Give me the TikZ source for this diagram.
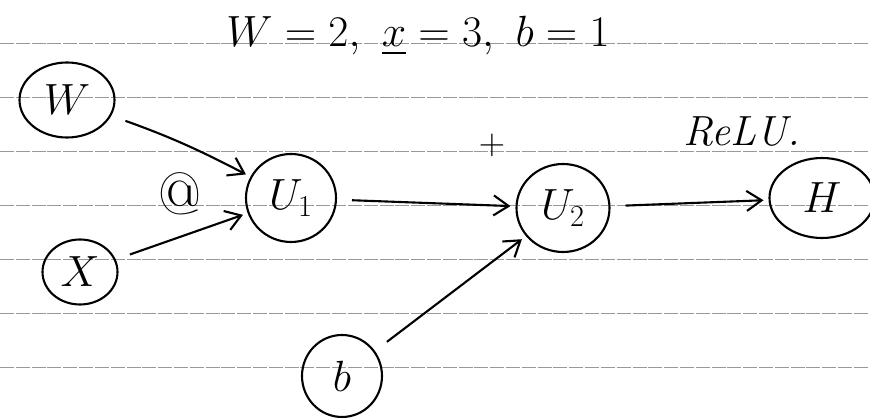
\documentclass[tikz,border=0pt]{standalone}
\usepackage{amsmath}
\usepackage{xcolor}
\usetikzlibrary{arrows.meta,shapes.geometric}

\begin{document}
\begin{tikzpicture}[
    x=0.02cm, y=-0.02cm,
    var/.style={ellipse, draw=black, line width=1.2pt, inner sep=0pt, font=\fontsize{24}{28}\selectfont},
    lbl/.style={font=\fontsize{22}{26}\selectfont},
    arr/.style={-{Straight Barb[length=3mm,width=4mm]}, line width=1.2pt, shorten <=3mm, shorten >=1mm},
    rule/.style={gray!80, very thin, dash pattern=on 8pt off 1pt}
]
\useasboundingbox (0,0) rectangle (870,418);

% ruled paper
\foreach \ry in {43,97,151,205,259,313,367}
    \draw[rule] (0,\ry) -- (870,\ry);

% title
\node[lbl, font=\fontsize{27}{30}\selectfont] (vals) at (418,36) {$W=2,\ \underline{x}=3,\ b=1$};

% variables
\node[var, minimum width=95*0.02cm, minimum height=75*0.02cm] (w) at (67,100) {$W$};
\node[var, minimum width=75*0.02cm, minimum height=65*0.02cm] (x) at (80,272) {$X$};
\node[var, minimum width=90*0.02cm, minimum height=88*0.02cm] (u1) at (291,198) {$U_1$};
\node[var, minimum width=93*0.02cm, minimum height=88*0.02cm] (u2) at (563,208) {$U_2$};
\node[var, minimum width=105*0.02cm, minimum height=80*0.02cm] (h) at (822,198) {$H$};
\node[var, minimum width=80*0.02cm, minimum height=82*0.02cm] (b) at (342,376) {$b$};

% operations
\node[lbl, font=\fontsize{34}{38}\selectfont] (matmul) at (180,194) {@};
\node[lbl] (plus) at (492,145) {$+$};
\node[lbl, font=\fontsize{24}{28}\selectfont\itshape] (relu) at (742,132) {ReLU.};

\draw[arr] (w) to[bend left=4] (u1);
\draw[arr] (x) -- (u1);
\draw[arr] (u1) -- (u2);
\draw[arr] (b) -- (u2);
\draw[arr] (u2) -- (h);
\end{tikzpicture}
\end{document}
